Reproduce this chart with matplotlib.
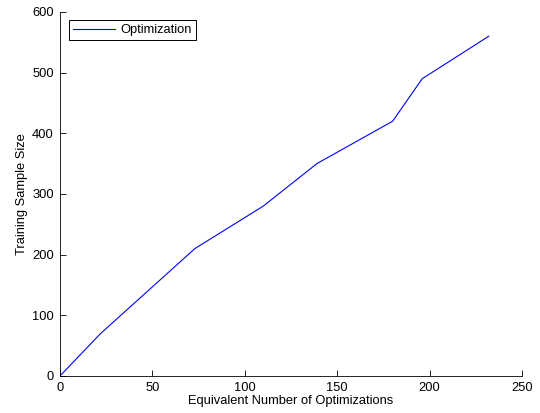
import matplotlib.pyplot as plt

plt.rcParams['font.family'] = ['Liberation Sans', 'DejaVu Sans']

# data
n_opt = [0, 22, 73, 110, 139, 180, 196, 232]
sample_size = [0, 70, 210, 280, 350, 420, 490, 560]
x_ticks = [0, 50, 100, 150, 200, 250]
y_ticks = [0, 100, 200, 300, 400, 500, 600]

fig = plt.figure(figsize=(5.4, 4.13), dpi=100)
ax = fig.add_axes([0.111, 0.0896, 0.8557, 0.8814])

ax.plot(n_opt, sample_size, color='#0000ff', lw=0.8, label='Optimization')

ax.set_xlim(0, 250)
ax.set_ylim(0, 600)
ax.set_xticks(x_ticks)
ax.set_yticks(y_ticks)
ax.tick_params(direction='in', length=4, width=0.6, labelsize=9.3, pad=4.5)
for side in ['top', 'right']:
    ax.spines[side].set_visible(False)
for side in ['left', 'bottom']:
    ax.spines[side].set_linewidth(0.6)

ax.set_xlabel('Equivalent Number of Optimizations', fontsize=9.3, labelpad=0.5)
ax.set_ylabel('Training Sample Size', fontsize=9.3, labelpad=3)

leg = ax.legend(loc='upper left', bbox_to_anchor=(0.019, 0.978), fontsize=9.3,
                fancybox=False, framealpha=1, edgecolor='black',
                handlelength=3.3, borderpad=0.32, handletextpad=0.4,
                borderaxespad=0)
leg.get_frame().set_linewidth(0.7)

fig.savefig('out.png', dpi=100)
